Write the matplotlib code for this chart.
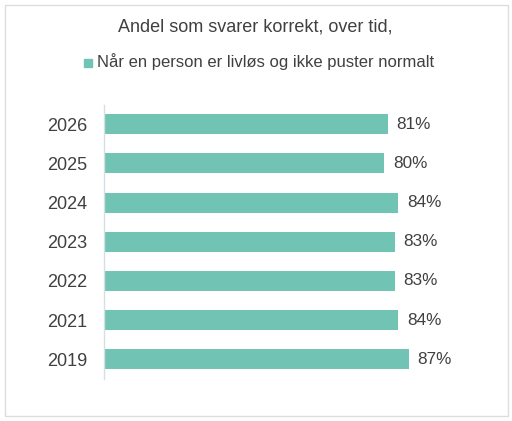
import matplotlib
matplotlib.use("Agg")
import matplotlib.pyplot as plt
from matplotlib.patches import Rectangle

years = ["2026", "2025", "2024", "2023", "2022", "2021", "2019"]
values = [81, 80, 84, 83, 83, 84, 87]
value_labels = ["81%", "80%", "84%", "83%", "83%", "84%", "87%"]
title = "Andel som svarer korrekt, over tid,"
legend_label = "Når en person er livløs og ikke puster normalt"

W, H = 512, 421
plt.rcParams['font.family'] = ['Liberation Sans', 'DejaVu Sans']
fig = plt.figure(figsize=(W / 100, H / 100), dpi=100)
fig.patch.set_facecolor("white")

bar_color = "#71c4b3"
text_color = "#404040"

# outer border
fig.patches.append(Rectangle((4.5 / W, 1 - 415.5 / H), 503 / W, 411 / H,
                             transform=fig.transFigure, fill=False,
                             edgecolor="#dddddd", linewidth=1))

left, right = 104 / W, 454 / W
top, bottom = 1 - 104.5 / H, 1 - 379 / H
ax = fig.add_axes([left, bottom, right - left, top - bottom])

pos = list(range(len(years)))
ax.barh(pos, values, height=0.51, color=bar_color)
ax.set_xlim(0, 100)
ax.set_ylim(len(years) - 0.5, -0.5)
ax.set_yticks(pos)
ax.set_yticklabels(years, fontsize=13, color=text_color)
ax.tick_params(axis="y", length=0, pad=12.2)
ax.set_xticks([])
for s in ["top", "right", "bottom"]:
    ax.spines[s].set_visible(False)
ax.spines["left"].set_color("#d3e0e2")
ax.spines["left"].set_linewidth(1)

for p, v, lab in zip(pos, values, value_labels):
    ax.annotate(lab, (v, p), xytext=(9, 0), textcoords="offset pixels",
                va="center", ha="left", fontsize=12.3, color=text_color)

fig.text(255 / W, 1 - 27 / H, title, ha="center", va="center",
         fontsize=13, color=text_color)

fig.patches.append(Rectangle((84 / W, 1 - 67 / H), 8 / W, 8 / H,
                             transform=fig.transFigure, color=bar_color))
fig.text(97 / W, 1 - 62 / H, legend_label, ha="left", va="center",
         fontsize=12, color=text_color)

fig.savefig("out.png", dpi=100, facecolor="white")
